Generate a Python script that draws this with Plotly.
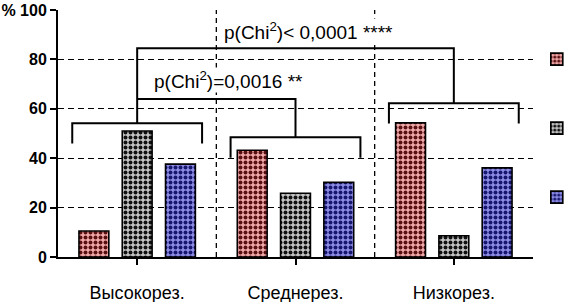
import plotly.graph_objects as go

categories = ["Высокорез.", "Среднерез.", "Низкорез."]
series_names = [" ", "  ", "   "]
red_values = [10.5, 43.2, 54.3]
gray_values = [51.0, 25.8, 8.6]
blue_values = [37.6, 30.2, 36.1]
y_tickvals = [0, 20, 40, 60, 80, 100]
y_ticktext = ["0", "20", "40", "60", "80", "% 100"]

# brackets: per-group bracket top and leg bottom
group_bracket_top = [54.2, 48.5, 62.2]
group_bracket_leg = [46.0, 40.2, 54.0]
bracket_halfwidth = 0.41
# comparison brackets: (from group, to group, level)
cmp_low = (0, 1, 64.0)
cmp_high = (0, 2, 84.5)
cmp_low_text = "p(Chi<sup>2</sup>)=0,0016 **"
cmp_high_text = "p(Chi<sup>2</sup>)< 0,0001 ****"

styles = [
    dict(fg="#5a1010", bg="#f0a8a8"),
    dict(fg="#111111", bg="#c4c4c4"),
    dict(fg="#16166e", bg="#8c8ce6"),
]

fig = go.Figure()
for vals, name, st in zip([red_values, gray_values, blue_values], series_names, styles):
    fig.add_trace(go.Bar(
        x=categories, y=vals, name=name, legendgroup=name,
        marker=dict(
            color=st["bg"],
            line=dict(color="black", width=1.6),
            pattern=dict(shape=".", fgcolor=st["fg"], bgcolor=st["bg"],
                         size=5, solidity=0.5, fillmode="replace"),
        ),
    ))

shapes = []
line = dict(color="black", width=2)
for i, (top, leg) in enumerate(zip(group_bracket_top, group_bracket_leg)):
    x0, x1 = i - bracket_halfwidth, i + bracket_halfwidth
    shapes.append(dict(type="path", xref="x", yref="y",
                       path=f"M{x0},{leg} L{x0},{top} L{x1},{top} L{x1},{leg}",
                       line=line))
a, b, lvl = cmp_high
shapes.append(dict(type="path", xref="x", yref="y",
                   path=f"M{a},{group_bracket_top[a]} L{a},{lvl} L{b},{lvl} L{b},{group_bracket_top[b]}",
                   line=line))
a, b, lvl = cmp_low
shapes.append(dict(type="path", xref="x", yref="y",
                   path=f"M{a},{lvl} L{b},{lvl} L{b},{group_bracket_top[b]}",
                   line=line))
for sep in [0.5, 1.5]:
    shapes.append(dict(type="line", xref="x", yref="y", x0=sep, x1=sep, y0=0, y1=100,
                       line=dict(color="black", width=1.3, dash="5px,4px"), layer="below"))

annotations = [
    dict(x=0.54, y=91.5, xref="x", yref="y", text=cmp_high_text, showarrow=False,
         xanchor="left", yanchor="middle", font=dict(size=19, color="black"),
         bgcolor="white", borderpad=0),
    dict(x=0.10, y=71.5, xref="x", yref="y", text=cmp_low_text, showarrow=False,
         xanchor="left", yanchor="middle", font=dict(size=19, color="black"),
         bgcolor="white", borderpad=0),
]

fig.update_layout(
    width=574, height=302,
    margin=dict(l=58, r=41, t=10, b=45, autoexpand=False),
    paper_bgcolor="white", plot_bgcolor="white",
    font=dict(family="Liberation Sans, Arial, sans-serif", color="black"),
    barmode="group", bargap=0.18, bargroupgap=0.31,
    shapes=shapes, annotations=annotations,
    showlegend=True,
    legend=dict(x=1.008, xanchor="left", y=0.86, yanchor="top", tracegroupgap=50,
                bgcolor="rgba(0,0,0,0)", font=dict(size=12), itemwidth=30),
    xaxis=dict(
        type="category", range=[-0.5, 2.5], automargin=False,
        showline=True, linecolor="black", linewidth=2,
        ticks="outside", ticklen=6, tickwidth=2, tickcolor="black",
        showgrid=False, tickfont=dict(size=18), ticklabelstandoff=12,
    ),
    yaxis=dict(
        range=[0, 100], tickvals=y_tickvals, ticktext=y_ticktext, automargin=False,
        showline=True, linecolor="black", linewidth=2,
        ticks="outside", ticklen=6, tickwidth=2, tickcolor="black",
        showgrid=True, gridcolor="black", gridwidth=1.3, griddash="6px,4px",
        zeroline=False,
        tickfont=dict(size=16, family="Liberation Sans, Arial, sans-serif", weight="bold"),
    ),
)

fig.write_html("out.html", config={"displayModeBar": False},
               post_script="document.body.style.margin='0';document.body.style.overflow='hidden';")
